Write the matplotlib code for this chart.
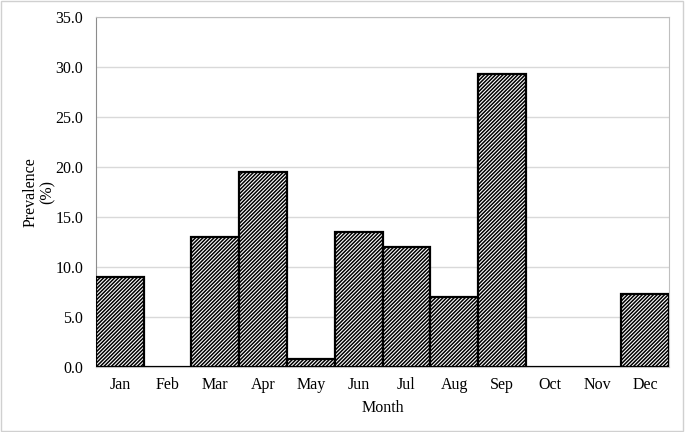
import matplotlib
matplotlib.use("Agg")
import matplotlib.pyplot as plt
from matplotlib.patches import Rectangle

# monthly prevalence (%)
months = ['Jan', 'Feb', 'Mar', 'Apr', 'May', 'Jun', 'Jul', 'Aug', 'Sep', 'Oct', 'Nov', 'Dec']
prevalence = [9.0, 0.0, 13.0, 19.5, 0.8, 13.5, 12.0, 7.0, 29.3, 0.0, 0.0, 7.3]
y_ticks = [0, 5, 10, 15, 20, 25, 30, 35]

plt.rcParams['font.family'] = ['Liberation Serif', 'DejaVu Serif']
plt.rcParams['hatch.linewidth'] = 1.1

fig = plt.figure(figsize=(6.85, 4.32), dpi=100)
ax = fig.add_axes([0.140, 0.150, 0.837, 0.811])

x = range(len(months))
ax.bar(x, prevalence, width=1.0, color='white', edgecolor='black',
       linewidth=1.6, hatch='/////////', zorder=3)

ax.set_xlim(-0.5, len(months) - 0.5)
ax.set_ylim(0, 35)
ax.set_yticks(y_ticks)
ax.set_yticklabels([f'{v:.1f}' for v in y_ticks])
ax.set_xticks(list(x))
ax.set_xticklabels(months)
ax.tick_params(length=0, labelsize=11.5)
ax.tick_params(axis='y', pad=9)
ax.tick_params(axis='x', pad=7)

ax.grid(axis='y', color='#d9d9d9', linewidth=1.0, zorder=0)
for side in ['top', 'right', 'bottom']:
    ax.spines[side].set_color('#bfbfbf')
ax.spines['left'].set_color('#8c8c8c')

ax.set_xlabel('Month', fontsize=11.5, labelpad=5)
ax.set_ylabel('Prevalence\n(%)', fontsize=11.5, labelpad=0, linespacing=1.1)

# light frame round the whole chart
fig.patches.append(Rectangle((0.002, 0.003), 0.995, 0.994, transform=fig.transFigure,
                             fill=False, edgecolor='#d0d0d0', linewidth=1.0))

fig.savefig('out.png', dpi=100)
